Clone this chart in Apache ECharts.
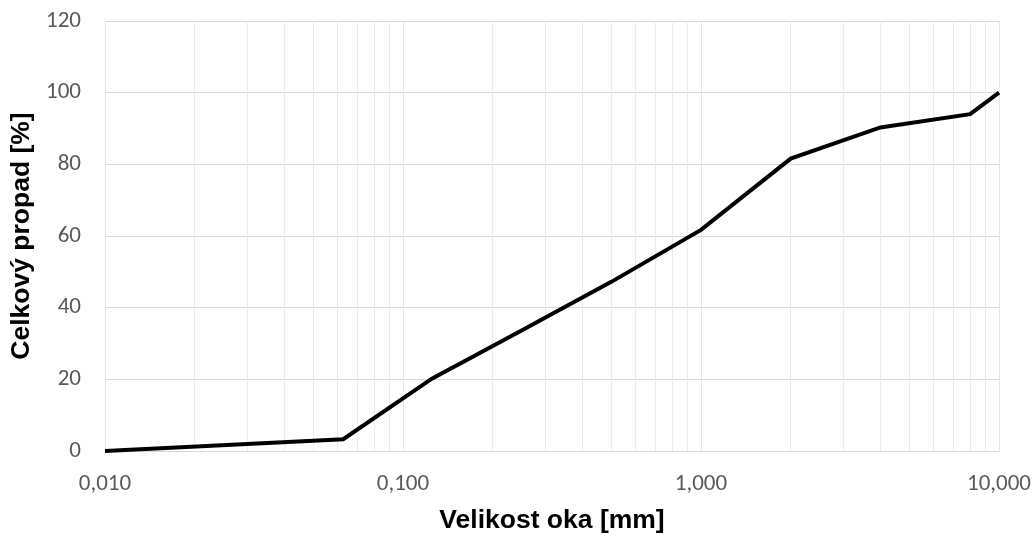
<!DOCTYPE html>
<html>
<head>
<meta charset="utf-8">
<script src="https://cdn.jsdelivr.net/npm/echarts@6/dist/echarts.min.js"></script>
<style>
  html, body { margin: 0; padding: 0; background: #ffffff; }
  #chart { width: 1035px; height: 533px; }
</style>
</head>
<body>
<div id="chart"></div>
<script>
// Sieve sizes [mm] and cumulative passing [%]
const sieveSizes = [0.01, 0.063, 0.125, 0.25, 0.5, 1, 2, 4, 8, 10];
const passing = [0, 3.3, 20.2, 33.6, 47.2, 61.7, 81.6, 90.3, 94.0, 100];

// Axis setup
const xMin = 0.01, xMax = 10;
const yMin = 0, yMax = 120, yStep = 20;
const decades = [0.01, 0.1, 1];
const minorSteps = [2, 3, 4, 5, 6, 7, 8, 9];

const xTitle = 'Velikost oka [mm]';
const yTitle = 'Celkový propad [%]';

// Minor vertical grid lines inside each decade (2..9 × decade)
const minorValues = [];
decades.forEach(d => minorSteps.forEach(m => {
  const v = +(d * m).toPrecision(3);
  if (v < xMax) minorValues.push(v);
}));

const labelFont = 'Carlito, Lato, "Liberation Sans", sans-serif';
const titleFont = '"Liberation Sans", Arial, sans-serif';

const chart = echarts.init(document.getElementById('chart'), null, { renderer: 'canvas' });

chart.setOption({
  backgroundColor: '#ffffff',
  animation: false,
  grid: {
    left: 105, right: 36, top: 21, bottom: 82,
    containLabel: false,
    outerBoundsMode: 'none'
  },
  xAxis: {
    type: 'log',
    logBase: 10,
    min: xMin,
    max: xMax,
    name: xTitle,
    nameLocation: 'middle',
    nameGap: 56,
    nameTextStyle: { fontFamily: titleFont, fontWeight: 'bold', fontSize: 26.5, color: '#000000' },
    axisLine: { show: true, lineStyle: { color: '#d9d9d9', width: 1 } },
    axisTick: { show: false },
    axisLabel: {
      fontFamily: labelFont,
      fontSize: 23,
      color: '#595959',
      margin: 22,
      formatter: v => Number(v).toFixed(3).replace('.', ',')
    },
    splitLine: { show: true, lineStyle: { color: '#e6e6e6', width: 1 } }
  },
  yAxis: {
    type: 'value',
    min: yMin,
    max: yMax,
    interval: yStep,
    name: yTitle,
    nameLocation: 'middle',
    nameGap: 64,
    nameTextStyle: { fontFamily: titleFont, fontWeight: 'bold', fontSize: 26.5, color: '#000000' },
    axisLine: { show: false },
    axisTick: { show: false },
    axisLabel: { fontFamily: labelFont, fontSize: 23, color: '#595959', margin: 24 },
    splitLine: { show: true, lineStyle: { color: '#d9d9d9', width: 1 } }
  },
  series: [
    {
      // minor log grid lines
      type: 'line',
      data: [],
      silent: true,
      markLine: {
        silent: true,
        symbol: ['none', 'none'],
        label: { show: false },
        lineStyle: { color: '#ececec', width: 1, type: 'solid' },
        data: minorValues.map(v => ({ xAxis: v }))
      }
    },
    {
      type: 'line',
      data: sieveSizes.map((s, i) => [s, passing[i]]),
      showSymbol: false,
      symbol: 'none',
      clip: false,
      lineStyle: { color: '#000000', width: 4, join: 'miter' },
      z: 5
    }
  ]
});
</script>
</body>
</html>
